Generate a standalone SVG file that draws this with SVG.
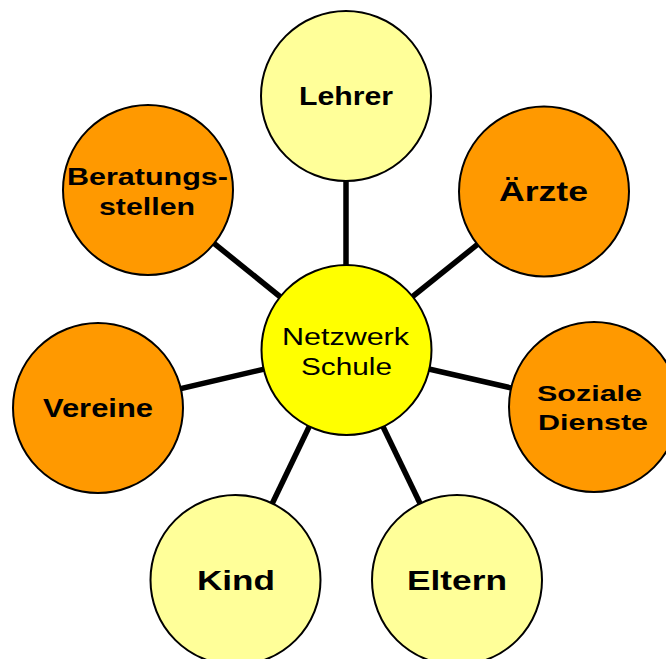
<svg xmlns="http://www.w3.org/2000/svg" width="666" height="659" viewBox="0 0 666 659">
<style>
.c{stroke:#000;stroke-width:2}
.y{fill:#FFFF99}
.o{fill:#FF9900}
.m{fill:#FFFF00}
.b{font-family:"Liberation Sans",Arial,sans-serif;font-weight:bold;fill:#000}
.r{font-family:"Liberation Sans",Arial,sans-serif;fill:#000}
.l{stroke:#000;stroke-width:5.5;fill:none}
</style>
<rect width="666" height="659" fill="#fff"/>
<g id="connectors">
<line class="l" x1="346" y1="350" x2="346" y2="96"/>
<line class="l" x1="346" y1="350" x2="544" y2="191"/>
<line class="l" x1="346" y1="350" x2="594" y2="407"/>
<line class="l" x1="346" y1="350" x2="457" y2="580"/>
<line class="l" x1="346" y1="350" x2="235.5" y2="580"/>
<line class="l" x1="346" y1="350" x2="98" y2="408"/>
<line class="l" x1="346" y1="350" x2="148" y2="190"/>
</g>
<g id="lehrer">
<circle class="c y" cx="346" cy="96" r="85"/>
<text class="b" x="299" y="105" font-size="25" textLength="94" lengthAdjust="spacingAndGlyphs">Lehrer</text>
</g>
<g id="aerzte">
<circle class="c o" cx="544" cy="191.5" r="85"/>
<text class="b" x="499" y="201" font-size="28" textLength="89" lengthAdjust="spacingAndGlyphs">Ärzte</text>
</g>
<g id="soziale-dienste">
<circle class="c o" cx="594" cy="407" r="85"/>
<text class="b" x="537" y="401" font-size="22.5" textLength="105" lengthAdjust="spacingAndGlyphs">Soziale</text>
<text class="b" x="538" y="430" font-size="22.5" textLength="110" lengthAdjust="spacingAndGlyphs">Dienste</text>
</g>
<g id="eltern">
<circle class="c y" cx="457" cy="580" r="85"/>
<text class="b" x="407" y="590" font-size="28" textLength="100" lengthAdjust="spacingAndGlyphs">Eltern</text>
</g>
<g id="kind">
<circle class="c y" cx="235.5" cy="580" r="85"/>
<text class="b" x="197" y="590" font-size="28" textLength="78" lengthAdjust="spacingAndGlyphs">Kind</text>
</g>
<g id="vereine">
<circle class="c o" cx="98" cy="408" r="85"/>
<text class="b" x="43" y="417" font-size="25" textLength="110" lengthAdjust="spacingAndGlyphs">Vereine</text>
</g>
<g id="beratungsstellen">
<circle class="c o" cx="148" cy="190" r="85"/>
<text class="b" x="67" y="185" font-size="23" textLength="161" lengthAdjust="spacingAndGlyphs">Beratungs-</text>
<text class="b" x="99" y="215" font-size="23" textLength="96" lengthAdjust="spacingAndGlyphs">stellen</text>
</g>
<g id="netzwerk-schule">
<circle class="c m" cx="346.5" cy="350" r="85"/>
<text class="r" x="282" y="345" font-size="23" textLength="127" lengthAdjust="spacingAndGlyphs">Netzwerk</text>
<text class="r" x="301" y="375" font-size="23" textLength="91" lengthAdjust="spacingAndGlyphs">Schule</text>
</g>
</svg>
